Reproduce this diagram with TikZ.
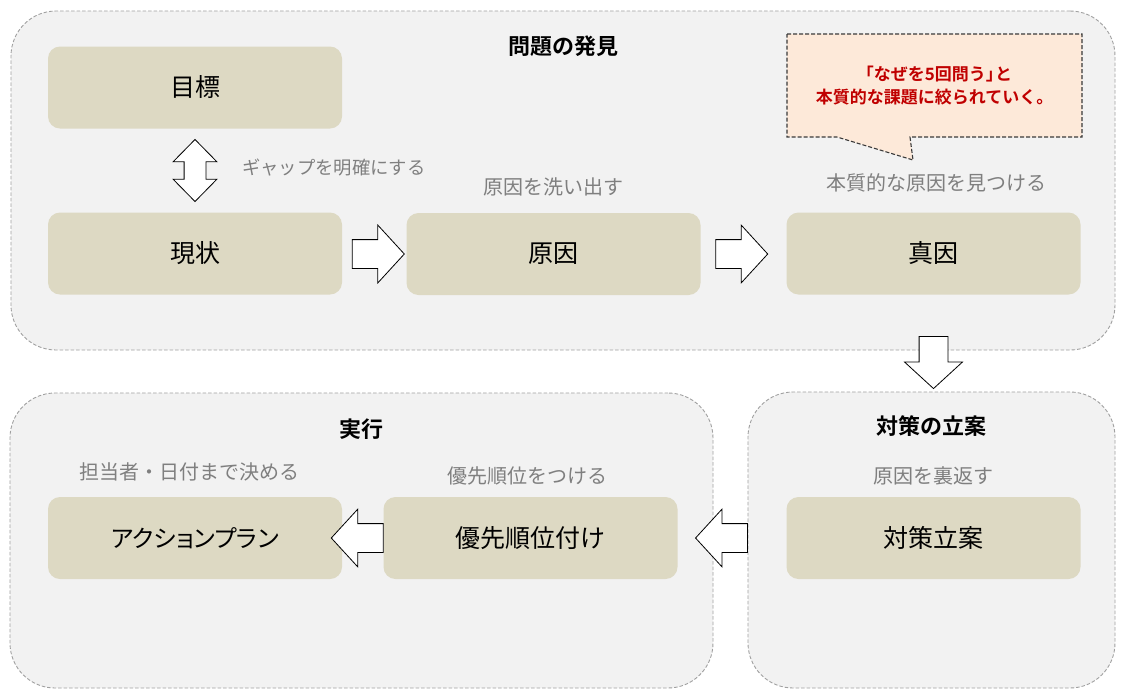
\documentclass[tikz,border=0pt]{standalone}
\usepackage{fontspec}
\setmainfont{Noto Sans CJK JP}[BoldFont={Noto Sans CJK JP Bold}]
\newfontfamily\paltfont{Noto Sans CJK JP}[RawFeature=+palt]
\usetikzlibrary{shapes.arrows,calc}
\definecolor{panelgray}{HTML}{F2F2F2}
\definecolor{panelline}{HTML}{A0A0A0}
\definecolor{boxtan}{HTML}{DDD9C3}
\definecolor{notepeach}{HTML}{FDE9D9}
\definecolor{noteline}{HTML}{3A3A3A}
\definecolor{labelgray}{HTML}{7F7F7F}
\definecolor{notered}{HTML}{C00000}
\begin{document}
\begin{tikzpicture}[x=1pt,y=-1pt,
	panel/.style={draw=panelline,fill=panelgray,line width=0.9pt,dash pattern=on 3.5pt off 2pt,rounded corners=45pt,inner sep=0pt},
	stage/.style={fill=boxtan,rounded corners=12pt,minimum width=294pt,minimum height=82pt,inner sep=0pt,font=\fontsize{25}{30}\selectfont},
	heading/.style={font=\fontsize{22}{26}\selectfont\bfseries},
	hint/.style={text=labelgray,inner sep=0pt,font=\fontsize{20}{24}\selectfont},
	blockarrow/.style={single arrow,draw=black,fill=white,line width=0.8pt,inner xsep=0pt,inner ysep=14pt,outer sep=0pt,
		single arrow head extend=14.5pt,single arrow tip angle=95,minimum height=52pt,minimum width=57pt},
	gaparrow/.style={double arrow,draw=black,fill=white,line width=0.8pt,inner xsep=0pt,inner ysep=10.5pt,outer sep=0pt,
		double arrow head extend=11pt,double arrow tip angle=89,minimum height=62pt,minimum width=43pt}]
	\useasboundingbox[fill=white] (0,0) rectangle (1130,697);
	\node[panel,minimum width=1104pt,minimum height=339pt] (mondai) at (563,180.5) {};
	\node[panel,minimum width=703pt,minimum height=295pt] (jikko) at (361.5,540.5) {};
	\node[panel,minimum width=367pt,minimum height=296pt] (taisaku) at (931.5,540) {};
	\node[heading] at ($(mondai.north)+(0,36)$) {問題の発見};
	\node[heading] at ($(jikko.north)+(0,37)$) {実行};
	\node[heading] at ($(taisaku.north)+(0,35)$) {対策の立案};
	\node[stage] (mokuhyo) at (195,87.5) {目標};
	\node[stage] (genjo) at (195,253.5) {現状};
	\node[stage] (genin) at (553.5,254) {原因};
	\node[stage] (shinin) at (933.5,253.5) {真因};
	\node[stage] (taisakuan) at (933.5,538) {対策立案};
	\node[stage] (yuusen) at (530.5,538) {優先順位付け};
	\node[stage,font=\fontsize{24}{30}\paltfont] (action) at (195,538) {アクションプラン};
	\node[gaparrow,rotate=90] (gap) at ($(mokuhyo.south)!0.5!(genjo.north)$) {};
	\node[hint,anchor=west,font=\fontsize{18.3}{22}\selectfont] at ($(gap.center)+(47,-3)$) {ギャップを明確にする};
	\node[hint] at ($(genin.north)+(0,-26)$) {原因を洗い出す};
	\node[hint] at ($(shinin.north)+(3,-29)$) {本質的な原因を見つける};
	\node[hint] at ($(action.north)+(-6,-25)$) {担当者・日付まで決める};
	\node[hint] at ($(yuusen.north)+(-3,-21)$) {優先順位をつける};
	\node[hint] at ($(taisakuan.north)+(0,-21)$) {原因を裏返す};
	\node[blockarrow,anchor=tip] (a1) at ($(genin.west)+(-2,0)$) {};
	\node[blockarrow,anchor=tail] (a2) at ($(genin.east)+(15,0)$) {};
	\node[blockarrow,rotate=-90,anchor=tip] (a3) at ($(shinin.south |- taisaku.north)+(0,-3)$) {};
	\node[blockarrow,rotate=180,anchor=tail] (a4) at (taisaku.west |- taisakuan.center) {};
	\node[blockarrow,rotate=180,anchor=tail] (a5) at (yuusen.west) {};
	\draw[draw=noteline,fill=notepeach,line width=1.1pt,dash pattern=on 4pt off 2pt]
		(787,34) -- (1082,34) -- (1082,137) -- (910,137) -- (913,160) -- (837,137) -- (787,137) -- cycle;
	\node[text=notered,align=center,font=\fontsize{17}{23}\selectfont\bfseries] (why) at (934.5,86) {「なぜを5回問う」\kern-0.45em と\\本質的な課題に絞られていく。};
\end{tikzpicture}
\end{document}
